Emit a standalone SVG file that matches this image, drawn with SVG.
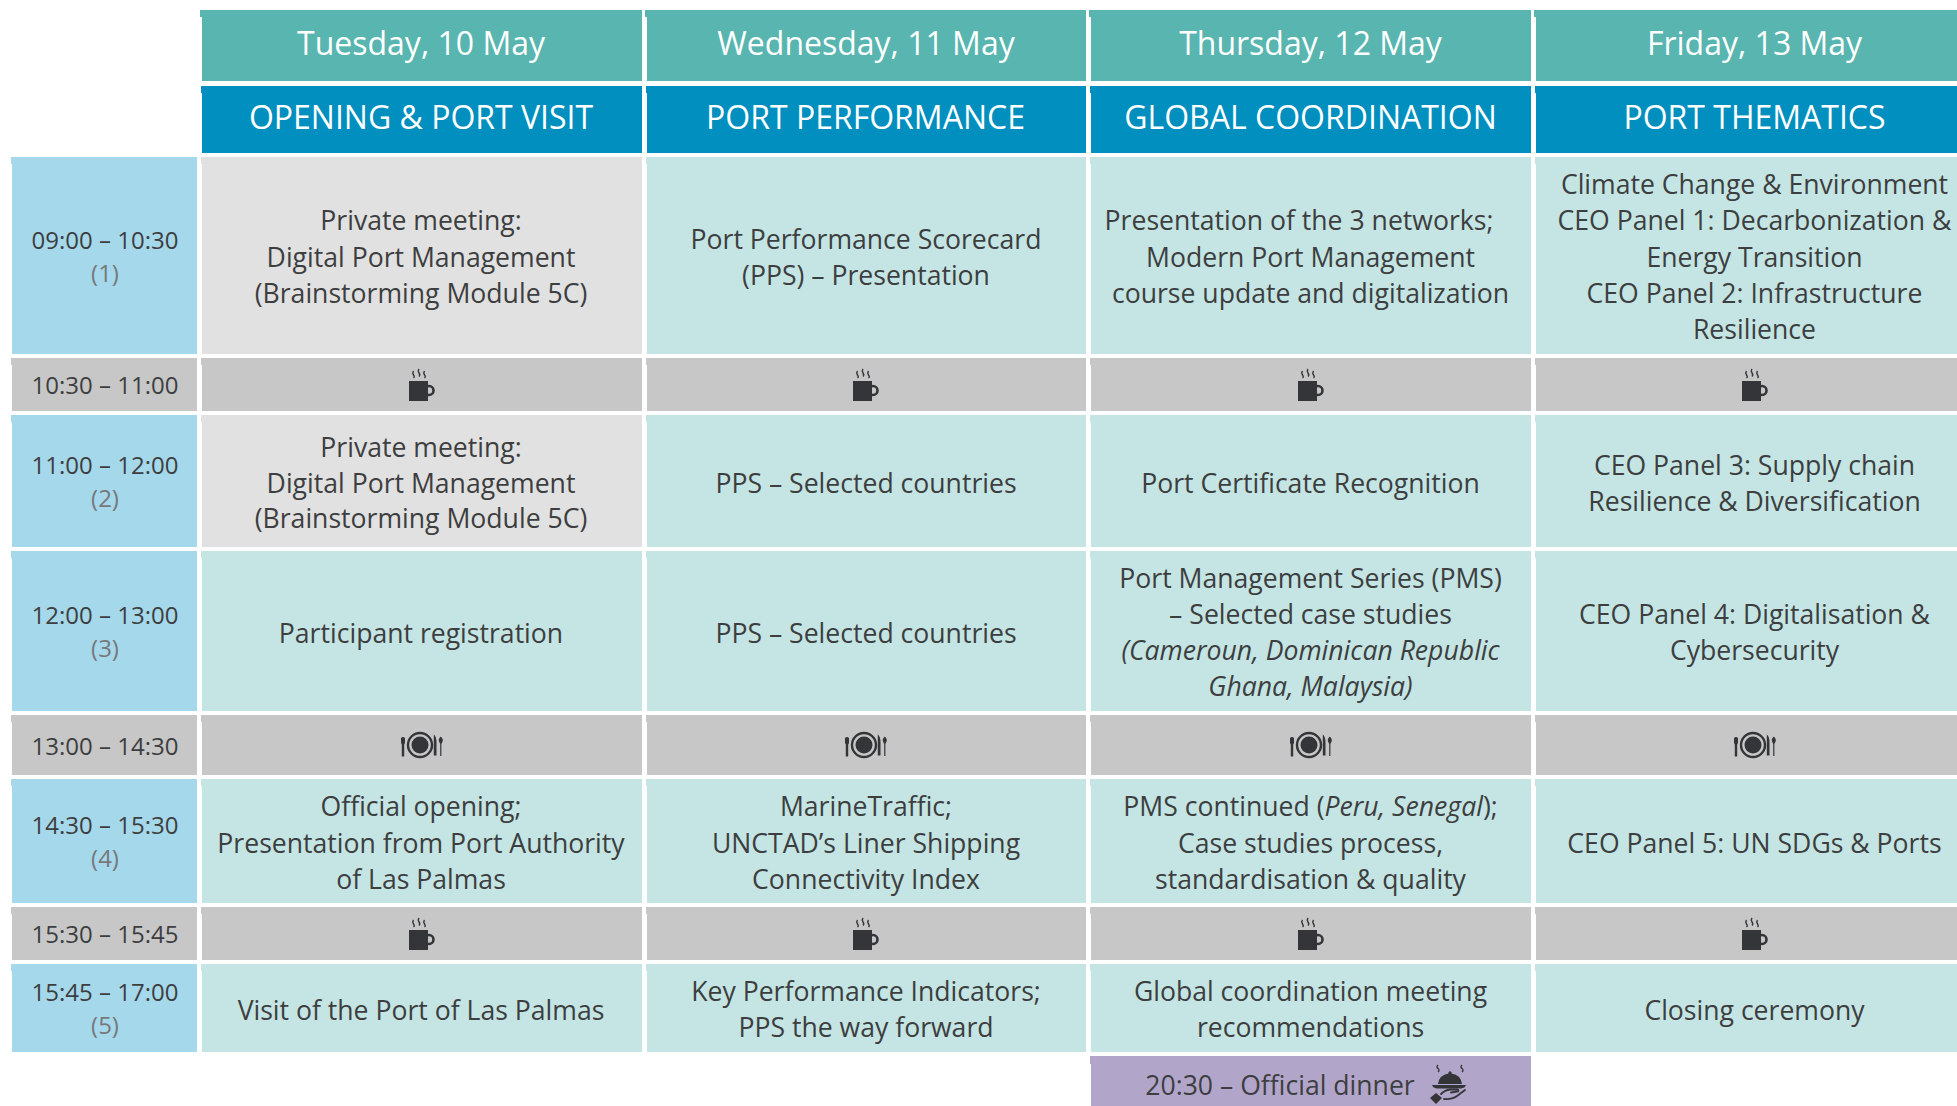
<svg xmlns="http://www.w3.org/2000/svg" width="1957" height="1106" viewBox="0 0 1957 1106">
<style>
text{font-family:"Open Sans","Noto Sans","Liberation Sans",sans-serif;text-anchor:middle}
.d{font-size:32px;fill:#fff}
.s{font-size:32px;fill:#fff}
.b{font-size:26.6px;fill:#3d3e40}
.t{font-size:24px;fill:#3d3e40}
.n{font-size:24px;fill:#77787b}
.i{font-style:italic}
.hd{fill:#58b5b0}.bl{fill:#008fbe}.tm{fill:#a5d8ea}.c{fill:#c4e5e3}.g{fill:#c6c7c6}.lg{fill:#e1e1e1}.p{fill:#b1a6ca}
.ic{fill:#343539}
.st{fill:none;stroke:#343539;stroke-width:1.4}
</style>
<defs>
<g id="cup">
<rect class="ic" x="-13" y="0" width="19" height="20"/>
<circle cx="7" cy="9.500" r="4.500" fill="none" stroke="#343539" stroke-width="2.600"/>
<path class="st" d="M-8.500-10q-1.500 2 0 4t0 3M-3-12q-1.500 2 0 4t0 3.500M2.500-10q-1.500 2 0 4t0 3"/>
</g>
<g id="plate">
<circle cx="-2" cy="0" r="12" fill="none" stroke="#343539" stroke-width="2.400"/>
<circle class="ic" cx="-2" cy="0" r="8.500"/>
<path class="ic" d="M-21-2v-5q2-2 4 0v5l-.8 1.500v12h-2.400v-12zM11.800-10.500q2.700 2 2.700 8v13h-2.700zM17.500-2.500q-2-3 1.300-6q3.300 3 1.300 6l-.7 1.500v12h-1.200v-12z"/>
</g>
</defs>
<g id="headers">
<g id="day-tue"><path class="hd" d="M200 10H642V81H202V17H200Z"/><text class="d" x="421" y="55">Tuesday, 10 May</text></g>
<g id="day-wed"><path class="hd" d="M645 10H1086V81H647V17H645Z"/><text class="d" x="866" y="55">Wednesday, 11 May</text></g>
<g id="day-thu"><path class="hd" d="M1089 10H1531V81H1091V17H1089Z"/><text class="d" x="1310.500" y="55">Thursday, 12 May</text></g>
<g id="day-fri"><path class="hd" d="M1534 10H1957V81H1536V17H1534Z"/><text class="d" x="1754.500" y="55">Friday, 13 May</text></g>
<g id="theme-tue"><path class="bl" d="M201 86H642V153H202V93H201Z"/><text class="s" x="421" y="128.500">OPENING &amp; PORT VISIT</text></g>
<g id="theme-wed"><path class="bl" d="M646 86H1086V153H647V93H646Z"/><text class="s" x="865.500" y="128.500">PORT PERFORMANCE</text></g>
<g id="theme-thu"><path class="bl" d="M1090 86H1531V153H1091V93H1090Z"/><text class="s" x="1310.500" y="128.500">GLOBAL COORDINATION</text></g>
<g id="theme-fri"><path class="bl" d="M1535 86H1957V153H1536V93H1535Z"/><text class="s" x="1754.500" y="128.500">PORT THEMATICS</text></g>
</g>
<g id="times">
<g id="t1"><path class="tm" d="M11 157H197V354H12V164H11Z"/><text class="t" x="105" y="249">09:00 – 10:30</text><text class="n" x="105" y="282">(1)</text></g>
<g id="t2"><path class="g" d="M11 358H197V411H12V365H11Z"/><text class="t" x="105" y="394">10:30 – 11:00</text></g>
<g id="t3"><path class="tm" d="M11 415H197V547H12V422H11Z"/><text class="t" x="105" y="474">11:00 – 12:00</text><text class="n" x="105" y="507">(2)</text></g>
<g id="t4"><path class="tm" d="M11 551H197V711H12V558H11Z"/><text class="t" x="105" y="624">12:00 – 13:00</text><text class="n" x="105" y="657">(3)</text></g>
<g id="t5"><path class="g" d="M11 715H197V775H12V722H11Z"/><text class="t" x="105" y="755">13:00 – 14:30</text></g>
<g id="t6"><path class="tm" d="M11 779H197V903H12V786H11Z"/><text class="t" x="105" y="834">14:30 – 15:30</text><text class="n" x="105" y="867">(4)</text></g>
<g id="t7"><path class="g" d="M11 907H197V960H12V914H11Z"/><text class="t" x="105" y="943">15:30 – 15:45</text></g>
<g id="t8"><path class="tm" d="M11 964H197V1052H12V971H11Z"/><text class="t" x="105" y="1001">15:45 – 17:00</text><text class="n" x="105" y="1034">(5)</text></g>
</g>
<g id="tuesday">
<g id="tue1"><path class="lg" d="M201 157H642V354H202V164H201Z"/><text class="b" x="421" y="230">Private meeting:</text><text class="b" x="421" y="267">Digital Port Management</text><text class="b" x="421" y="303">(Brainstorming Module 5C)</text></g>
<g id="tue-break1"><path class="g" d="M201 358H642V411H202V365H201Z"/><use href="#cup" x="422" y="381"/></g>
<g id="tue2"><path class="lg" d="M201 415H642V547H202V422H201Z"/><text class="b" x="421" y="457">Private meeting:</text><text class="b" x="421" y="493">Digital Port Management</text><text class="b" x="421" y="528">(Brainstorming Module 5C)</text></g>
<g id="tue3"><path class="c" d="M201 551H642V711H202V558H201Z"/><text class="b" x="421" y="642.500">Participant registration</text></g>
<g id="tue-lunch"><path class="g" d="M201 715H642V775H202V722H201Z"/><use href="#plate" x="422" y="745"/></g>
<g id="tue4"><path class="c" d="M201 779H642V903H202V786H201Z"/><text class="b" x="421" y="816">Official opening;</text><text class="b" x="421" y="852.500">Presentation from Port Authority</text><text class="b" x="421" y="889">of Las Palmas</text></g>
<g id="tue-break2"><path class="g" d="M201 907H642V960H202V914H201Z"/><use href="#cup" x="422" y="930"/></g>
<g id="tue5"><path class="c" d="M201 964H642V1052H202V971H201Z"/><text class="b" x="421" y="1020">Visit of the Port of Las Palmas</text></g>
</g>
<g id="wednesday">
<g id="wed1"><path class="c" d="M646 157H1086V354H647V164H646Z"/><text class="b" x="866" y="248.500">Port Performance Scorecard</text><text class="b" x="866" y="285">(PPS) – Presentation</text></g>
<g id="wed-break1"><path class="g" d="M646 358H1086V411H647V365H646Z"/><use href="#cup" x="866" y="381"/></g>
<g id="wed2"><path class="c" d="M646 415H1086V547H647V422H646Z"/><text class="b" x="866" y="492.500">PPS – Selected countries</text></g>
<g id="wed3"><path class="c" d="M646 551H1086V711H647V558H646Z"/><text class="b" x="866" y="642.500">PPS – Selected countries</text></g>
<g id="wed-lunch"><path class="g" d="M646 715H1086V775H647V722H646Z"/><use href="#plate" x="866" y="745"/></g>
<g id="wed4"><path class="c" d="M646 779H1086V903H647V786H646Z"/><text class="b" x="866" y="816">MarineTraffic;</text><text class="b" x="866" y="852.500">UNCTAD’s Liner Shipping</text><text class="b" x="866" y="889">Connectivity Index</text></g>
<g id="wed-break2"><path class="g" d="M646 907H1086V960H647V914H646Z"/><use href="#cup" x="866" y="930"/></g>
<g id="wed5"><path class="c" d="M646 964H1086V1052H647V971H646Z"/><text class="b" x="866" y="1001">Key Performance Indicators;</text><text class="b" x="866" y="1037">PPS the way forward</text></g>
</g>
<g id="thursday">
<g id="thu1"><path class="c" d="M1090 157H1531V354H1091V164H1090Z"/><text class="b" x="1299" y="230">Presentation of the 3 networks;</text><text class="b" x="1310.500" y="267">Modern Port Management</text><text class="b" x="1310.500" y="303">course update and digitalization</text></g>
<g id="thu-break1"><path class="g" d="M1090 358H1531V411H1091V365H1090Z"/><use href="#cup" x="1311" y="381"/></g>
<g id="thu2"><path class="c" d="M1090 415H1531V547H1091V422H1090Z"/><text class="b" x="1310.500" y="492.500">Port Certificate Recognition</text></g>
<g id="thu3"><path class="c" d="M1090 551H1531V711H1091V558H1090Z"/><text class="b" x="1310.500" y="588">Port Management Series (PMS)</text><text class="b" x="1310.500" y="624">– Selected case studies</text><text class="b i" x="1310.500" y="660">(Cameroun, Dominican Republic</text><text class="b i" x="1310.500" y="696">Ghana, Malaysia)</text></g>
<g id="thu-lunch"><path class="g" d="M1090 715H1531V775H1091V722H1090Z"/><use href="#plate" x="1311" y="745"/></g>
<g id="thu4"><path class="c" d="M1090 779H1531V903H1091V786H1090Z"/><text class="b" x="1310.500" y="816">PMS continued (<tspan class="i">Peru, Senegal</tspan>);</text><text class="b" x="1310.500" y="852.500">Case studies process,</text><text class="b" x="1310.500" y="889">standardisation &amp; quality</text></g>
<g id="thu-break2"><path class="g" d="M1090 907H1531V960H1091V914H1090Z"/><use href="#cup" x="1311" y="930"/></g>
<g id="thu5"><path class="c" d="M1090 964H1531V1052H1091V971H1090Z"/><text class="b" x="1310.500" y="1001">Global coordination meeting</text><text class="b" x="1310.500" y="1037">recommendations</text></g>
<g id="thu-dinner"><path class="p" d="M1090 1056H1531V1106H1091V1064H1090Z"/><text class="b" x="1280" y="1095">20:30 – Official dinner</text>
<path class="ic" d="M1438 1084q1-9 10.500-10.500a1.600 1.600 0 1 1 3 0q9.500 1.500 10.500 10.500zM1432 1085h34q-1 3-5 3.500h-24q-4-.5-5-3.500z"/>
<path class="st" stroke-linecap="round" style="stroke-width:1.800" d="M1441 1094q4-4 9-4.500h7.500q1.500 .5 .5 2l-7 1M1444 1099q8 .5 13-3l8-6"/>
<path class="ic" d="M1430 1098l6-5 6 5-6 6z"/>
<path class="st" d="M1438 1065q-2 2 0 3.500t0 3.500M1462 1065q-2 2 0 3.500t0 3.500"/>
</g>
</g>
<g id="friday">
<g id="fri1"><path class="c" d="M1535 157H1957V354H1536V164H1535Z"/><text class="b" x="1754.500" y="194">Climate Change &amp; Environment</text><text class="b" x="1754.500" y="230">CEO Panel 1: Decarbonization &amp;</text><text class="b" x="1754.500" y="267">Energy Transition</text><text class="b" x="1754.500" y="303">CEO Panel 2: Infrastructure</text><text class="b" x="1754.500" y="339">Resilience</text></g>
<g id="fri-break1"><path class="g" d="M1535 358H1957V411H1536V365H1535Z"/><use href="#cup" x="1755" y="381"/></g>
<g id="fri2"><path class="c" d="M1535 415H1957V547H1536V422H1535Z"/><text class="b" x="1754.500" y="474.500">CEO Panel 3: Supply chain</text><text class="b" x="1754.500" y="510.500">Resilience &amp; Diversification</text></g>
<g id="fri3"><path class="c" d="M1535 551H1957V711H1536V558H1535Z"/><text class="b" x="1754.500" y="624">CEO Panel 4: Digitalisation &amp;</text><text class="b" x="1754.500" y="660">Cybersecurity</text></g>
<g id="fri-lunch"><path class="g" d="M1535 715H1957V775H1536V722H1535Z"/><use href="#plate" x="1755" y="745"/></g>
<g id="fri4"><path class="c" d="M1535 779H1957V903H1536V786H1535Z"/><text class="b" x="1754.500" y="852.500">CEO Panel 5: UN SDGs &amp; Ports</text></g>
<g id="fri-break2"><path class="g" d="M1535 907H1957V960H1536V914H1535Z"/><use href="#cup" x="1755" y="930"/></g>
<g id="fri5"><path class="c" d="M1535 964H1957V1052H1536V971H1535Z"/><text class="b" x="1754.500" y="1020">Closing ceremony</text></g>
</g>
<g id="connectors"/>
</svg>
